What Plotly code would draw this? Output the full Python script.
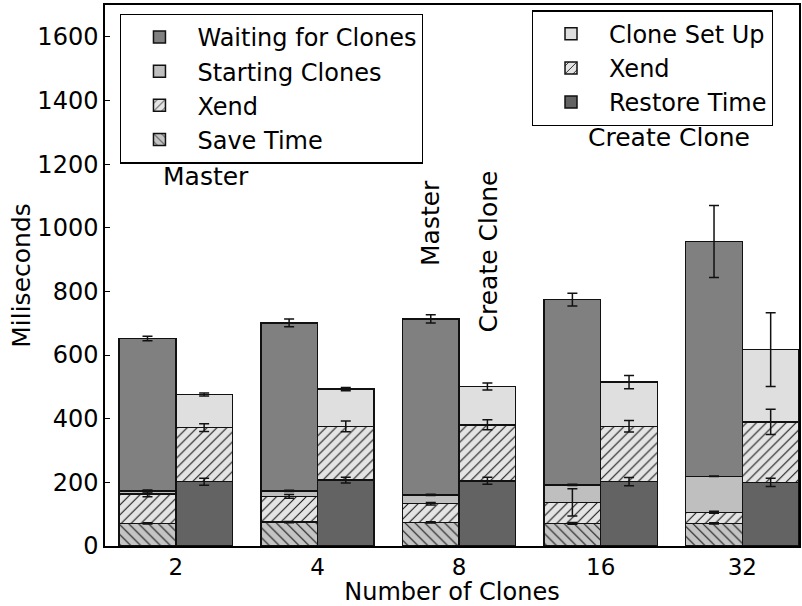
import plotly.graph_objects as go

# Number of clones per run
categories = ["2", "4", "8", "16", "32"]

# Master side (ms), stacked bottom to top
save_time = [71, 75, 74, 71, 71]
master_xend = [92, 81, 59, 66, 35]
starting_clones = [10, 17, 28, 55, 113]
waiting_for_clones = [479, 528, 553, 582, 738]

save_time_err = [2, 2, 2, 3, 2]
master_xend_err = [8, 6, 4, 43, 3]
starting_clones_err = [3, 2, 2, 2, 1]
waiting_for_clones_err = [7, 12, 13, 20, 113]

# Create-clone side (ms), stacked bottom to top
restore_time = [202, 207, 205, 202, 200]
clone_xend = [170, 169, 176, 174, 190]
clone_set_up = [104, 117, 120, 139, 227]

restore_time_err = [11, 9, 11, 13, 13]
clone_xend_err = [12, 17, 16, 18, 40]
clone_set_up_err = [5, 5, 11, 21, 116]

FONT = "DejaVu Sans"
BAR_W = 0.4
idx = list(range(len(categories)))
x_master = [i - BAR_W / 2 for i in idx]
x_clone = [i + BAR_W / 2 for i in idx]

outline = dict(color="#111111", width=1.5)


def bar(name, x, y, color, legend, shape=""):
    marker = dict(color=color, line=outline)
    if shape:
        marker["pattern"] = dict(shape=shape, bgcolor=color, fgcolor="#111111",
                                 size=7, solidity=0.15, fillmode="replace")
    return go.Bar(name=name, x=x, y=y, width=BAR_W, marker=marker, legend=legend)


fig = go.Figure()
fig.add_trace(bar("Save Time", x_master, save_time, "#c4c4c4", "legend", "\\"))
fig.add_trace(bar("Xend", x_master, master_xend, "#e4e4e4", "legend", "/"))
fig.add_trace(bar("Starting Clones", x_master, starting_clones, "#bfbfbf", "legend"))
fig.add_trace(bar("Waiting for Clones", x_master, waiting_for_clones, "#808080", "legend"))

fig.add_trace(bar("Restore Time", x_clone, restore_time, "#636363", "legend2"))
fig.add_trace(bar("Xend", x_clone, clone_xend, "#e4e4e4", "legend2", "/"))
fig.add_trace(bar("Clone Set Up", x_clone, clone_set_up, "#dfdfdf", "legend2"))


# Error bars sit on top of every stacked segment, drawn above all bars
def add_stack_errors(x, segments, errors):
    running = [0] * len(x)
    for seg, e in zip(segments, errors):
        running = [r + s for r, s in zip(running, seg)]
        fig.add_trace(go.Scatter(
            x=x, y=running, mode="markers",
            marker=dict(size=1, opacity=0), showlegend=False, hoverinfo="skip",
            error_y=dict(type="data", array=e, color="#111111", thickness=1.5, width=5),
        ))


add_stack_errors(x_master,
                 [save_time, master_xend, starting_clones, waiting_for_clones],
                 [save_time_err, master_xend_err, starting_clones_err, waiting_for_clones_err])
add_stack_errors(x_clone,
                 [restore_time, clone_xend, clone_set_up],
                 [restore_time_err, clone_xend_err, clone_set_up_err])

legend_style = dict(
    bordercolor="black", borderwidth=1.2, bgcolor="white",
    font=dict(family=FONT, size=24, color="black"),
    traceorder="reversed", xanchor="left", yanchor="top",
    itemwidth=66, tracegroupgap=0,
)

fig.update_layout(
    width=802, height=606,
    margin=dict(l=105, r=1, t=5, b=60),
    paper_bgcolor="white", plot_bgcolor="white",
    barmode="stack",
    font=dict(family=FONT, size=24, color="black"),
    legend=dict(x=0.022, y=0.984, **legend_style),
    legend2=dict(x=0.615, y=0.99, **legend_style),
    xaxis=dict(
        range=[-0.5, 4.4], tickmode="array", tickvals=idx, ticktext=categories,
        ticks="", showline=True, mirror=True, linecolor="black", linewidth=1.5,
        showgrid=False, zeroline=False, tickfont=dict(size=23),
        title=dict(text="Number of Clones", font=dict(size=24), standoff=5),
    ),
    yaxis=dict(
        range=[0, 1700], dtick=200, ticks="inside", ticklen=5, tickcolor="black",
        showline=True, mirror=True, linecolor="black", linewidth=1.5,
        showgrid=False, zeroline=False, tickfont=dict(size=24),
        title=dict(text="Miliseconds", font=dict(size=25), standoff=0),
    ),
    annotations=[
        dict(text="Master", x=0.213, y=1162, xref="x", yref="y", showarrow=False,
             font=dict(size=25)),
        dict(text="Create Clone", x=3.484, y=1283, xref="x", yref="y", showarrow=False,
             font=dict(size=25)),
        dict(text="Master", x=1.797, y=1016, xref="x", yref="y", showarrow=False,
             textangle=-90, font=dict(size=25)),
        dict(text="Create Clone", x=2.208, y=924, xref="x", yref="y", showarrow=False,
             textangle=-90, font=dict(size=25)),
    ],
)

fig.write_html("out.html")
